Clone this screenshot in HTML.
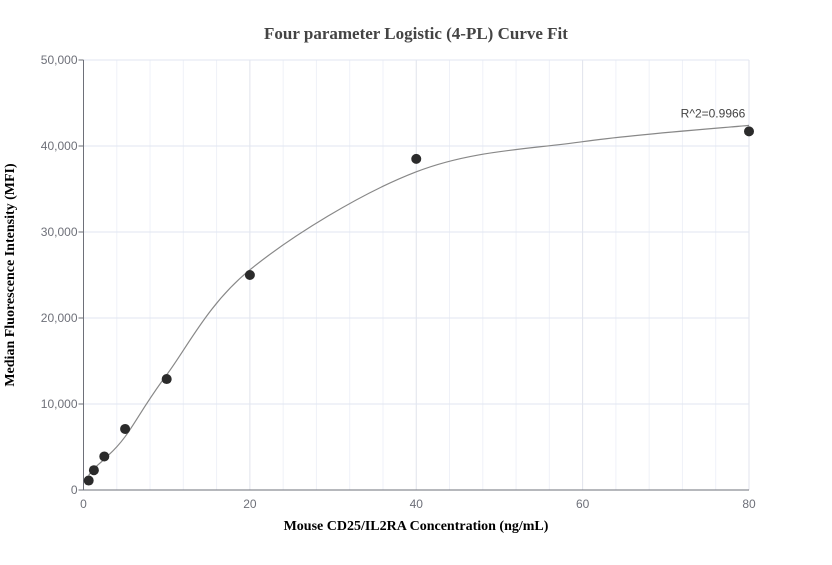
<!DOCTYPE html>
<html><head><meta charset="utf-8"><style>
body{margin:0;background:#fff;width:832px;height:560px;overflow:hidden}
svg{font-family:"Liberation Sans",sans-serif}
</style></head><body>
<svg id="chart" width="832" height="560">
<text x="416" y="39" text-anchor="middle" font-family="Liberation Serif,serif" font-weight="bold" font-size="17" fill="#444">Four parameter Logistic (4-PL) Curve Fit</text>
<g id="grid"></g><g id="axes"></g><g id="series"></g>
<text x="416" y="530" text-anchor="middle" font-family="Liberation Serif,serif" font-weight="bold" font-size="14" fill="#000">Mouse CD25/IL2RA Concentration (ng/mL)</text>
<text transform="translate(14,275) rotate(-90)" text-anchor="middle" font-family="Liberation Serif,serif" font-weight="bold" font-size="14" fill="#000">Median Fluorescence Intensity (MFI)</text>
</svg>
<script>
const xValues=[0.625,1.25,2.5,5,10,20,40,80];
const yValues=[1100,2300,3900,7100,12900,25000,38500,41700];
const fitX=[0.625,1.25,2.5,5,10,20,40,60,80];
const fitY=[1700,2500,3600,6200,13400,25600,37000,40500,42400];
const xTicks=[0,20,40,60,80];
const yTicks=[0,10000,20000,30000,40000,50000];
const r2Label="R^2=0.9966";
const NS="http://www.w3.org/2000/svg";
const X0=83.5,X1=749,Y0=490,Y1=60;
const sx=v=>X0+v/80*(X1-X0), sy=v=>Y0-v/50000*(Y0-Y1);
function mk(t,a,p){const e=document.createElementNS(NS,t);for(const k in a)e.setAttribute(k,a[k]);p.appendChild(e);return e;}
const grid=document.getElementById('grid'),axes=document.getElementById('axes'),ser=document.getElementById('series');
for(let v=4;v<=80;v+=4){const l=mk('line',{x1:sx(v),x2:sx(v),y1:Y1,y2:Y0,stroke:v%20===0?'#e0e3ec':'#eff1f8','stroke-width':1},grid);

}
yTicks.forEach(v=>{if(v===0)return;const l=mk('line',{x1:X0,x2:X1,y1:sy(v),y2:sy(v),stroke:'#e0e6f1','stroke-width':1},grid);

});
const ya=mk('line',{x1:X0,x2:X0,y1:Y1,y2:Y0,stroke:'#6e7079'},axes);


const xa=mk('line',{x1:X0,x2:X1,y1:Y0,y2:Y0,stroke:'#6e7079'},axes);


yTicks.forEach(v=>{const tk=mk('line',{x1:X0-5,x2:X0,y1:sy(v),y2:sy(v),stroke:'#6e7079'},axes);


const t=mk('text',{x:X0-6,y:sy(v)+4,'text-anchor':'end','font-size':12,fill:'#6e7079'},axes);t.textContent=v.toLocaleString('en-US');

});
xTicks.forEach(v=>{const t=mk('text',{x:sx(v),y:Y0+18,'text-anchor':'middle','font-size':12,fill:'#6e7079'},axes);t.textContent=v;

});
const P=fitX.map((x,i)=>[sx(x),sy(fitY[i])]);
let d='M'+P[0].join(',');
for(let i=0;i<P.length-1;i++){const p0=P[Math.max(0,i-1)],p1=P[i],p2=P[i+1],p3=P[Math.min(P.length-1,i+2)];
d+=` C${p1[0]+(p2[0]-p0[0])/6},${p1[1]+(p2[1]-p0[1])/6} ${p2[0]-(p3[0]-p1[0])/6},${p2[1]-(p3[1]-p1[1])/6} ${p2[0]},${p2[1]}`;}
const c=mk('path',{d:d,fill:'none',stroke:'#888','stroke-width':1.2},ser);


xValues.forEach((x,i)=>{const p=mk('circle',{cx:sx(x),cy:sy(yValues[i]),r:5,fill:'#2b2b2b'},ser);

});
const r=mk('text',{x:sx(80)-36,y:sy(fitY[fitY.length-1])-8,'text-anchor':'middle','font-size':12,fill:'#444'},ser);r.textContent=r2Label;


</script>
</body></html>
